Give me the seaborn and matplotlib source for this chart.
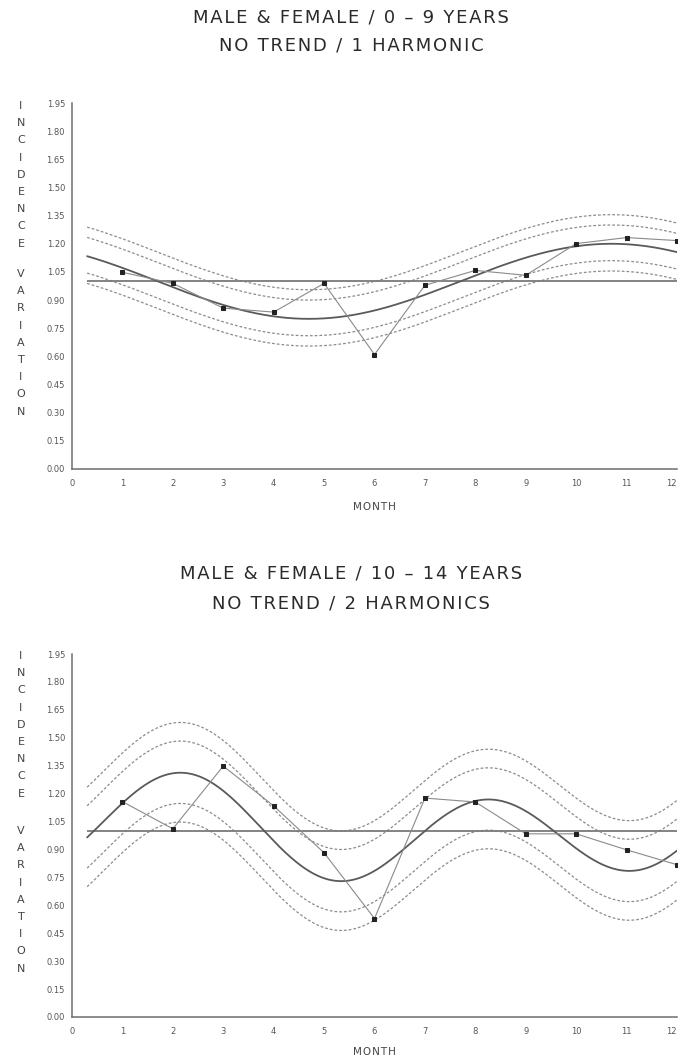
import numpy as np
import pandas as pd
import matplotlib
matplotlib.use("Agg")
import matplotlib.pyplot as plt
import seaborn as sns

sns.set_style("white")
plt.rcParams["font.family"] = ["DejaVu Sans"]

# ---------------- data ----------------
months = list(range(1, 13))
incidence_0_9 = [1.048, 0.989, 0.857, 0.836, 0.989, 0.610, 0.979, 1.058, 1.032, 1.201, 1.233, 1.217]
incidence_10_14 = [1.157, 1.011, 1.348, 1.134, 0.882, 0.529, 1.176, 1.155, 0.984, 0.984, 0.898, 0.818]

# fitted harmonic models (mean, amplitude / peak month of 1st and 2nd harmonic)
fit_0_9 = {"mean": 1.0, "amp1": 0.20, "peak1": 10.7, "amp2": 0.0, "peak2": 0.0}
fit_10_14 = {"mean": 1.0, "amp1": 0.077, "peak1": 1.5, "amp2": 0.24, "peak2": 2.2}

# confidence band offsets from the fitted curve (outer up, inner up, inner low, outer low)
bands_0_9 = [0.155, 0.100, -0.090, -0.145]
bands_10_14 = [0.270, 0.170, -0.165, -0.265]

fit_start = 0.3
ytick_values = [0.00, 0.15, 0.30, 0.45, 0.60, 0.75, 0.90, 1.05, 1.20, 1.35, 1.50, 1.65, 1.80, 1.95]
xtick_values = list(range(0, 13))
ylabel_words = ["INCIDENCE", "VARIATION"]
xlabel_text = "MONTH"
titles_top = ["MALE & FEMALE / 0 \u2013 9 YEARS", "NO TREND / 1 HARMONIC"]
titles_bottom = ["MALE & FEMALE / 10 \u2013 14 YEARS", "NO TREND / 2 HARMONICS"]


def model(t, p):
    w = 2 * np.pi / 12.0
    return (p["mean"] + p["amp1"] * np.cos(w * (t - p["peak1"]))
            + p["amp2"] * np.cos(2 * w * (t - p["peak2"])))


def spaced(s, gap="\u200a"):
    return gap.join(s)


W, H = 680, 1057
fig = plt.figure(figsize=(W / 100, H / 100), dpi=100)

line_grey = "#5a5a5a"
band_grey = "#8c8c8c"
axis_grey = "#6e6e6e"


def draw_panel(ax, values, fit, bands, labelpad):
    t = np.linspace(fit_start, 12, 400)
    curve = model(t, fit)
    df = pd.DataFrame({"month": t, "fit": curve})
    for off in bands:
        df["band"] = curve + off
        sns.lineplot(data=df, x="month", y="band", ax=ax, color=band_grey,
                     lw=0.9, linestyle=(0, (2.2, 1.6)), estimator=None, sort=False)
    ax.hlines(fit["mean"], fit_start, 12, color="#7a7a7a", lw=1.3)
    sns.lineplot(data=df, x="month", y="fit", ax=ax, color=line_grey, lw=1.3,
                 estimator=None, sort=False)
    dd = pd.DataFrame({"month": months, "inc": values})
    sns.lineplot(data=dd, x="month", y="inc", ax=ax, color="#8a8a8a", lw=0.8,
                 marker="s", markersize=3.2, markerfacecolor="#222222",
                 markeredgecolor="#222222", estimator=None, sort=False)
    ax.set_xlim(0, 12)
    ax.set_ylim(0, 1.95)
    ax.set_xticks(xtick_values)
    ax.set_xticklabels([str(v) for v in xtick_values])
    ax.get_xticklabels()[-1].set_horizontalalignment("right")
    ax.set_yticks(ytick_values)
    ax.set_yticklabels([f"{v:.2f}" for v in ytick_values])
    ax.set_ylabel("")
    ax.set_xlabel(spaced(xlabel_text), fontsize=7.5, color="#444444", labelpad=labelpad)
    for s in ["top", "right"]:
        ax.spines[s].set_visible(False)
    for s in ["left", "bottom"]:
        ax.spines[s].set_color(axis_grey)
        ax.spines[s].set_linewidth(1.1)
    ax.tick_params(axis="both", length=2, width=0.6, labelsize=6,
                   colors="#555555", pad=3, direction="out")
    ax.tick_params(axis="x", pad=5)


ax1 = fig.add_axes([72 / W, (H - 469) / H, 605 / W, 366 / H])
draw_panel(ax1, incidence_0_9, fit_0_9, bands_0_9, labelpad=10)
ax2 = fig.add_axes([72 / W, (H - 1017) / H, 605 / W, 363 / H])
draw_panel(ax2, incidence_10_14, fit_10_14, bands_10_14, labelpad=8)

# stacked vertical y-label (two words)
for tops in ((101, 269), (651, 826)):
    for word, top_px in zip(ylabel_words, tops):
        fig.text(21 / W, 1 - top_px / H, "\n".join(word), ha="center", va="top",
                 fontsize=8, color="#444444", linespacing=1.9)

for (l1, l2), (y1, y2) in zip([titles_top, titles_bottom], [(18, 46), (573, 603)]):
    fig.text(351 / W, 1 - y1 / H, spaced(l1), ha="center", va="center", fontsize=13, color="#2a2a2a")
    fig.text(351 / W, 1 - y2 / H, spaced(l2), ha="center", va="center", fontsize=13, color="#2a2a2a")

fig.savefig("out.png", dpi=100, facecolor="white")
